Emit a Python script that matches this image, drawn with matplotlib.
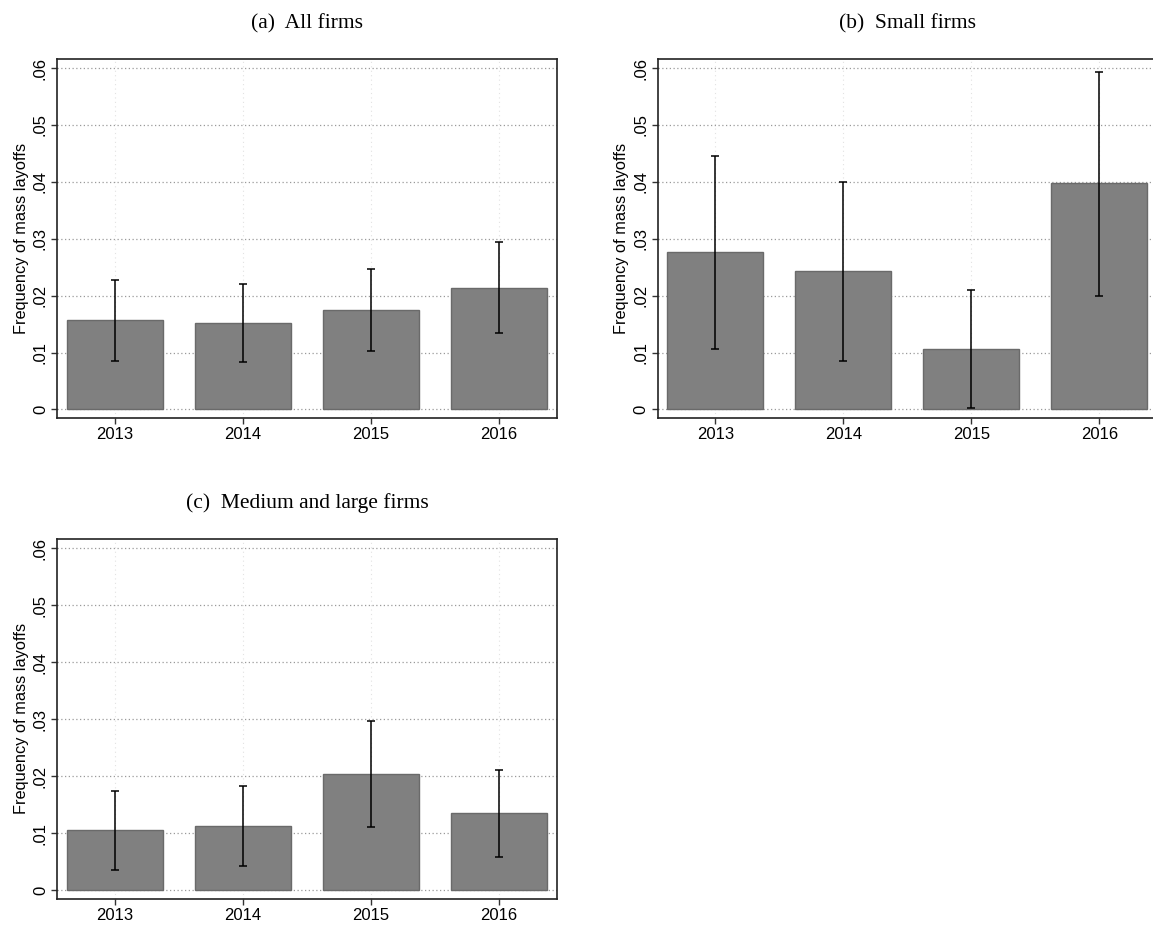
import matplotlib
matplotlib.use('Agg')
import matplotlib.pyplot as plt
import numpy as np

# data
years = [2013, 2014, 2015, 2016]
ytick_vals = [0, 0.01, 0.02, 0.03, 0.04, 0.05, 0.06]
ytick_labels = ['0', '.01', '.02', '.03', '.04', '.05', '.06']

all_mean = [0.0157, 0.0152, 0.0174, 0.0214]
all_lo = [0.0086, 0.0084, 0.0102, 0.0134]
all_hi = [0.0227, 0.0220, 0.0247, 0.0294]

small_mean = [0.0277, 0.0243, 0.0106, 0.0398]
small_lo = [0.0107, 0.0086, 0.0002, 0.0200]
small_hi = [0.0446, 0.0399, 0.0210, 0.0594]

medlarge_mean = [0.0105, 0.0113, 0.0203, 0.0135]
medlarge_lo = [0.0036, 0.0043, 0.0110, 0.0059]
medlarge_hi = [0.0174, 0.0183, 0.0296, 0.0211]

W, H = 1153, 927


def px_axes(fig, left, top, right, bottom):
    # axes placed by pixel edges of the frame
    return fig.add_axes([left / W, 1 - bottom / H, (right - left) / W, (bottom - top) / H])


def panel(ax, title, mean, lo, hi):
    x = np.arange(len(years))
    mean = np.array(mean)
    err = [mean - np.array(lo), np.array(hi) - mean]
    ax.bar(x, mean, width=0.75, color='#808080', edgecolor='#6a6a6a', linewidth=1.0, zorder=2)
    ax.errorbar(x, mean, yerr=err, fmt='none', ecolor='black', elinewidth=1.1,
                capsize=2.6, capthick=1.1, zorder=3)
    ax.set_xlim(-0.45, 3.45)
    ax.set_ylim(-0.0015, 0.0616)
    ax.set_xticks(x)
    ax.set_xticklabels([str(y) for y in years], fontsize=12, family='Liberation Sans')
    ax.set_yticks(ytick_vals)
    ax.set_yticklabels(ytick_labels, rotation=90, va='center', fontsize=12, family='Liberation Sans')
    ax.tick_params(length=4.2, width=1, color='#333333', pad=2.5)
    ax.yaxis.grid(True, linestyle=(0, (1, 2)), color='#9a9a9a', linewidth=0.9, zorder=0)
    ax.xaxis.grid(True, linestyle=(0, (1, 3)), color='#e2e2e2', linewidth=0.8, zorder=0)
    ax.set_axisbelow(True)
    for s in ax.spines.values():
        s.set_linewidth(1.2)
        s.set_color('#222222')
    ax.set_ylabel('Frequency of mass layoffs', fontsize=11.8, family='Liberation Sans', labelpad=3)
    ax.set_title(title, fontsize=15.5, family='Liberation Serif', pad=22)


fig = plt.figure(figsize=(W / 100, H / 100), dpi=100)
ax1 = px_axes(fig, 57.3, 59, 556.7, 418)
ax2 = px_axes(fig, 657.7, 59, 1157, 418)
ax3 = px_axes(fig, 57.3, 539, 556.7, 898.7)

panel(ax1, '(a)  All firms', all_mean, all_lo, all_hi)
panel(ax2, '(b)  Small firms', small_mean, small_lo, small_hi)
panel(ax3, '(c)  Medium and large firms', medlarge_mean, medlarge_lo, medlarge_hi)

fig.savefig('out.png', dpi=100)
